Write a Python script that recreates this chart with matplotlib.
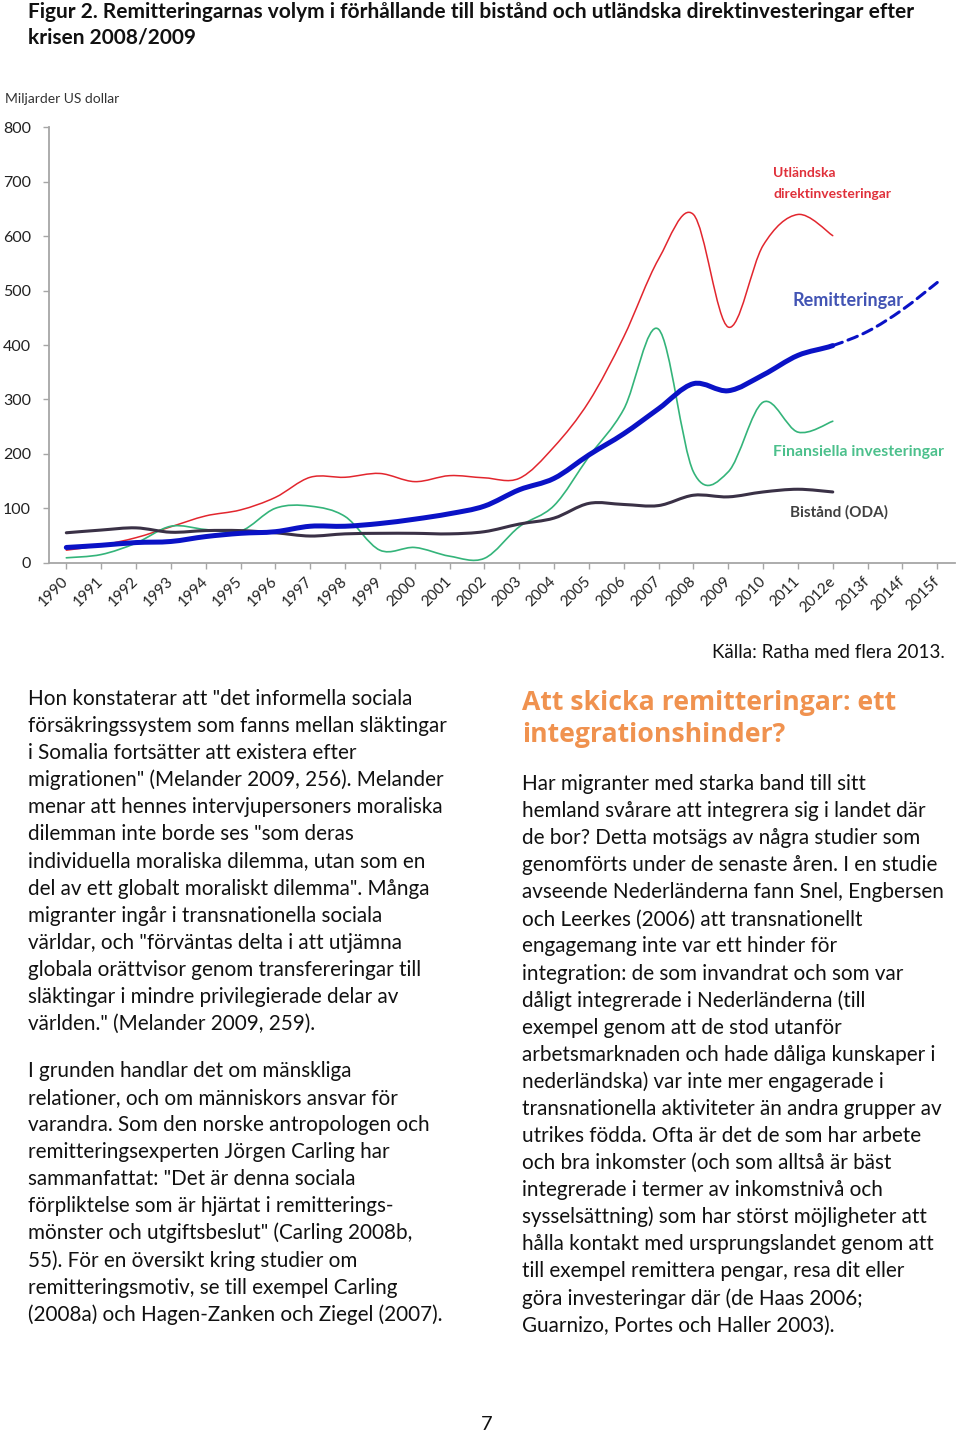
import matplotlib
matplotlib.use("Agg")
import matplotlib.pyplot as plt
from matplotlib.path import Path
from matplotlib.patches import PathPatch

# Kategorier och serier (miljarder US dollar)
years = ['1990', '1991', '1992', '1993', '1994', '1995', '1996', '1997', '1998',
         '1999', '2000', '2001', '2002', '2003', '2004', '2005', '2006', '2007',
         '2008', '2009', '2010', '2011', '2012e', '2013f', '2014f', '2015f']
fdi = [23, 32, 46, 66, 86, 97, 120, 157, 157, 164, 149, 160, 156, 155, 213, 296,
       415, 558, 640, 433, 583, 640, 601]
portfolio = [9, 15, 36, 67, 61, 58, 100, 104, 85, 23, 28, 12, 8, 66, 105, 195,
             282, 429, 167, 167, 295, 240, 260]
remittances = [28, 32, 37, 39, 48, 54, 57, 67, 67, 72, 80, 90, 104, 134, 155, 198,
               237, 283, 329, 316, 345, 381, 399, 425, 465, 515]
oda = [55, 60, 64, 56, 59, 59, 55, 49, 53, 54, 54, 53, 57, 71, 82, 109, 107, 105,
       124, 121, 130, 135, 130]
forecast_start = 22  # 2012e

W, H = 960, 1433


def fx(x):
    return x / W


def fy(y):
    return 1 - y / H


def smooth_path(xs, ys, start, stop):
    """Bezier-utjamnad linje (som Excels 'utjamnad linje') mellan index start..stop"""
    n = len(xs)
    verts = [(xs[start], ys[start])]
    codes = [Path.MOVETO]
    for i in range(start, stop):
        x0, y0 = (xs[i - 1], ys[i - 1]) if i > 0 else (xs[i], ys[i])
        x3, y3 = (xs[i + 2], ys[i + 2]) if i + 2 < n else (xs[i + 1], ys[i + 1])
        c1 = (xs[i] + (xs[i + 1] - x0) / 6, ys[i] + (ys[i + 1] - y0) / 6)
        c2 = (xs[i + 1] - (x3 - xs[i]) / 6, ys[i + 1] - (y3 - ys[i]) / 6)
        verts += [c1, c2, (xs[i + 1], ys[i + 1])]
        codes += [Path.CURVE4] * 3
    return Path(verts, codes)


def add_line(ax, values, start, stop, **kw):
    xs = list(range(len(values)))
    ax.add_patch(PathPatch(smooth_path(xs, values, start, stop), fill=False,
                           capstyle='round', joinstyle='round', **kw))


plt.rcParams['font.family'] = ['Lato', 'DejaVu Sans']

fig = plt.figure(figsize=(W / 100, H / 100), dpi=100)

# Diagram
ax = fig.add_axes([fx(48.9), fy(562.7), (954.7 - 48.9) / W, (562.7 - 127.4) / H])
ax.set_xlim(-0.5, len(years) - 0.5)
ax.set_ylim(0, 800)
for s in ['top', 'right']:
    ax.spines[s].set_visible(False)
for s in ['left', 'bottom']:
    ax.spines[s].set_color('#a6a6a6')
    ax.spines[s].set_linewidth(1.3)
ax.set_yticks(range(0, 801, 100))
ax.set_xticks(range(len(years)))
ax.set_xticklabels(years, rotation=45, ha='right', va='center',
                   rotation_mode='anchor')
ax.tick_params(axis='y', direction='out', length=4, width=1, color='#a6a6a6',
               labelsize=11.5, labelcolor='#222222', pad=9)
ax.tick_params(axis='x', direction='out', length=4, width=1, color='#a6a6a6',
               labelsize=11, labelcolor='#222222', pad=8)

add_line(ax, fdi, 0, len(fdi) - 1, edgecolor='#e2262e', linewidth=1.1, zorder=3)
add_line(ax, portfolio, 0, len(portfolio) - 1, edgecolor='#34b47a', linewidth=1.2, zorder=3)
add_line(ax, oda, 0, len(oda) - 1, edgecolor='#3a3146', linewidth=2.2, zorder=4)
add_line(ax, remittances, 0, forecast_start, edgecolor='#0a12c6', linewidth=3.6, zorder=5)
add_line(ax, remittances, forecast_start, len(remittances) - 1, edgecolor='#0a12c6',
         linewidth=2.2, linestyle=(0, (3.3, 2.0)), zorder=5)

fig.text(fx(5), fy(103), 'Miljarder US dollar', fontsize=10, color='#333333')

# Serieetiketter
fig.text(fx(773), fy(177), 'Utländska', fontsize=10, fontweight='bold', color='#e0303a')
fig.text(fx(773), fy(198), 'direktinvesteringar', fontsize=10, fontweight='bold',
         color='#e0303a')
fig.text(fx(792), fy(306), 'Remitteringar', fontsize=13, fontweight='bold', color='#4254b4')
fig.text(fx(773), fy(456), 'Finansiella investeringar', fontsize=11.4, fontweight='bold',
         color='#4cc08c')
fig.text(fx(790), fy(517), 'Bistånd (ODA)', fontsize=11, fontweight='bold', color='#404040')

# Rubrik
title = dict(fontsize=15, fontweight='bold', color='#111111', va='baseline')
fig.text(fx(28), fy(18), 'Figur 2. Remitteringarnas volym i förhållande till bistånd och '
         'utländska direktinvesteringar efter', **title)
fig.text(fx(28), fy(43), 'krisen 2008/2009', **title)

fig.text(fx(945), fy(658), 'Källa: Ratha med flera 2013.', fontsize=13.5, ha='right',
         va='baseline', color='#111111')

# Brödtext
left_p1 = [
    'Hon konstaterar att "det informella sociala',
    'försäkringssystem som fanns mellan släktingar',
    'i Somalia fortsätter att existera efter',
    'migrationen" (Melander 2009, 256). Melander',
    'menar att hennes intervjupersoners moraliska',
    'dilemman inte borde ses "som deras',
    'individuella moraliska dilemma, utan som en',
    'del av ett globalt moraliskt dilemma". Många',
    'migranter ingår i transnationella sociala',
    'världar, och "förväntas delta i att utjämna',
    'globala orättvisor genom transfereringar till',
    'släktingar i mindre privilegierade delar av',
    'världen." (Melander 2009, 259).',
]
left_p2 = [
    'I grunden handlar det om mänskliga',
    'relationer, och om människors ansvar för',
    'varandra. Som den norske antropologen och',
    'remitteringsexperten Jörgen Carling har',
    'sammanfattat: "Det är denna sociala',
    'förpliktelse som är hjärtat i remitterings-',
    'mönster och utgiftsbeslut" (Carling 2008b,',
    '55). För en översikt kring studier om',
    'remitteringsmotiv, se till exempel Carling',
    '(2008a) och Hagen-Zanken och Ziegel (2007).',
]
right_p = [
    'Har migranter med starka band till sitt',
    'hemland svårare att integrera sig i landet där',
    'de bor? Detta motsägs av några studier som',
    'genomförts under de senaste åren. I en studie',
    'avseende Nederländerna fann Snel, Engbersen',
    'och Leerkes (2006) att transnationellt',
    'engagemang inte var ett hinder för',
    'integration: de som invandrat och som var',
    'dåligt integrerade i Nederländerna (till',
    'exempel genom att de stod utanför',
    'arbetsmarknaden och hade dåliga kunskaper i',
    'nederländska) var inte mer engagerade i',
    'transnationella aktiviteter än andra grupper av',
    'utrikes födda. Ofta är det de som har arbete',
    'och bra inkomster (och som alltså är bäst',
    'integrerade i termer av inkomstnivå och',
    'sysselsättning) som har störst möjligheter att',
    'hålla kontakt med ursprungslandet genom att',
    'till exempel remittera pengar, resa dit eller',
    'göra investeringar där (de Haas 2006;',
    'Guarnizo, Portes och Haller 2003).',
]
step = 27.08
body = dict(fontsize=14.85, color='#111111', va='baseline')
for i, line in enumerate(left_p1):
    fig.text(fx(28), fy(705 + i * step), line, **body)
for i, line in enumerate(left_p2):
    fig.text(fx(28), fy(1077 + i * step), line, **body)
for i, line in enumerate(right_p):
    fig.text(fx(522), fy(790 + i * step), line, **body)

head = dict(fontsize=19.2, fontweight='bold', color='#f0924f', va='baseline',
            family=['Open Sans', 'DejaVu Sans'])
fig.text(fx(522), fy(710), 'Att skicka remitteringar: ett', **head)
fig.text(fx(522), fy(742), 'integrationshinder?', **head)

fig.text(fx(487), fy(1430), '7', fontsize=14.5, ha='center', va='baseline', color='#111111')

fig.savefig('out.png', dpi=100, facecolor='white')
